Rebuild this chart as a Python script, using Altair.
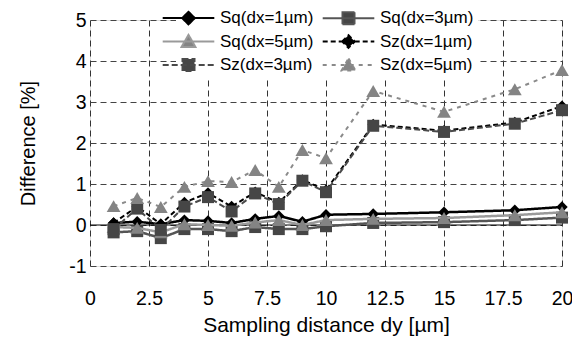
import altair as alt
import pandas as pd

x_vals = [1, 2, 3, 4, 5, 6, 7, 8, 9, 10, 12, 15, 18, 20]
series_names = ["Sq(dx=1µm)", "Sq(dx=3µm)", "Sq(dx=5µm)",
                "Sz(dx=1µm)", "Sz(dx=3µm)", "Sz(dx=5µm)"]
sq1 = [0.05, 0.08, 0.02, 0.12, 0.10, 0.05, 0.15, 0.22, 0.08, 0.25, 0.27, 0.31, 0.36, 0.44]
sq3 = [-0.18, -0.15, -0.32, -0.10, -0.10, -0.15, -0.05, -0.10, -0.10, -0.03, 0.05, 0.07, 0.12, 0.18]
sq5 = [-0.05, -0.07, -0.18, 0.02, 0.00, -0.02, 0.06, 0.12, 0.00, 0.12, 0.15, 0.17, 0.24, 0.31]
sz1 = [0.05, 0.45, 0.02, 0.55, 0.78, 0.45, 0.80, 0.55, 1.10, 0.85, 2.45, 2.30, 2.50, 2.90]
sz3 = [-0.10, 0.40, -0.12, 0.45, 0.68, 0.33, 0.77, 0.51, 1.08, 0.80, 2.42, 2.27, 2.47, 2.80]
sz5 = [0.46, 0.66, 0.44, 0.93, 1.07, 1.05, 1.34, 0.93, 1.83, 1.63, 3.27, 2.76, 3.31, 3.78]
series_values = [sq1, sq3, sq5, sz1, sz3, sz5]

x_ticks = [0, 2.5, 5, 7.5, 10, 12.5, 15, 17.5, 20]
y_ticks = [-1, 0, 1, 2, 3, 4, 5]
zero_line = [0]

line_colors = ["#000000", "#555555", "#9a9a9a", "#000000", "#4a4a4a", "#8a8a8a"]
marker_colors = ["#000000", "#464646", "#848484", "#000000", "#464646", "#848484"]
dashes = [[1, 0], [1, 0], [1, 0], [5, 3], [6, 3], [4, 5]]
line_widths = [2.5, 2.5, 2.5, 2, 2, 2]
marker_shapes = ["diamond", "square", "triangle-up", "diamond", "square", "triangle-up"]
marker_sizes = [130, 144, 190, 130, 144, 190]
legend_paths = [
    "M-4.3,0H4.3M-1.05,0L0,-1.05L1.05,0L0,1.05Z",
    "M-4.3,0H4.3M-1,-1H1V1H-1Z",
    "M-4.3,0H4.3M0,-1.1L1.15,0.9L-1.15,0.9Z",
    "M-4.3,0H4.3M-1.05,0L0,-1.05L1.05,0L0,1.05Z",
    "M-4.3,0H4.3M-1,-1H1V1H-1Z",
    "M-4.3,0H4.3M0,-1.1L1.15,0.9L-1.15,0.9Z",
]

rows = []
for name, vals in zip(series_names, series_values):
    for xv, yv in zip(x_vals, vals):
        rows.append({"series": name, "x": xv, "y": yv})
df = pd.DataFrame(rows)

FONT = "Liberation Sans"
xscale = alt.Scale(domain=[0, 20], nice=False, zero=False)
yscale = alt.Scale(domain=[-1, 5], nice=False, zero=False)
xaxis = alt.Axis(values=x_ticks, labelExpr="'' + datum.value", ticks=False, domain=False,
                 grid=True, gridDash=[6, 4], gridColor="#333333", gridWidth=1, labelFlush=False,
                 labelFontSize=19.5, labelPadding=23, labelColor="black", labelFont=FONT,
                 title="Sampling distance dy [µm]", titleFontSize=21, titlePadding=7,
                 titleFont=FONT, titleColor="black", titleFontWeight="normal")
yaxis = alt.Axis(values=y_ticks, labelExpr="'' + datum.value", ticks=False, domain=False,
                 grid=True, gridDash=[6, 4], gridColor="#444444", gridWidth=1, labelFlush=False,
                 labelFontSize=19.5, labelPadding=4, labelColor="black", labelFont=FONT,
                 title="Difference [%]", titleFontSize=20, titlePadding=30,
                 titleFont=FONT, titleColor="black", titleFontWeight="normal")

X = alt.X("x:Q", scale=xscale, axis=xaxis)
Y = alt.Y("y:Q", scale=yscale, axis=yaxis)

layers = []
layers.append(alt.Chart(pd.DataFrame({"y": zero_line})).mark_rule(color="black", strokeWidth=1)
              .encode(y=alt.Y("y:Q", scale=yscale, axis=yaxis)))

for i, name in enumerate(series_names):
    d = df[df["series"] == name]
    base = alt.Chart(d).encode(x=X, y=Y)
    layers.append(base.mark_line(color=line_colors[i], strokeWidth=line_widths[i],
                                 strokeDash=dashes[i]))
    layers.append(base.mark_point(filled=True, shape=marker_shapes[i], size=marker_sizes[i],
                                  color=marker_colors[i], opacity=1))

L = alt.Legend(title=None, orient="none", legendX=86, legendY=-14.5, columns=2,
               direction="horizontal",
               symbolSize=144, symbolStrokeWidth=2, symbolOpacity=1,
               labelFontSize=17, labelFont=FONT, labelColor="black", labelOffset=23,
               columnPadding=4, rowPadding=1.5, fillColor="white", padding=4,
               symbolLimit=0)

legend_layer = alt.Chart(df).mark_point(filled=True, opacity=0).encode(
    x=X, y=Y,
    color=alt.Color("series:N", scale=alt.Scale(domain=series_names, range=marker_colors), legend=L),
    stroke=alt.Stroke("series:N", scale=alt.Scale(domain=series_names, range=line_colors), legend=L),
    shape=alt.Shape("series:N", scale=alt.Scale(domain=series_names, range=legend_paths), legend=L),
    strokeDash=alt.StrokeDash("series:N", scale=alt.Scale(domain=series_names, range=dashes), legend=L),
)
layers.append(legend_layer)

chart = alt.layer(*layers).properties(
    width=472, height=246,
    autosize=alt.AutoSizeParams(type="none"),
    padding={"left": 82, "top": 12, "right": 10, "bottom": 73},
).configure_view(stroke="black", strokeWidth=1).configure(background="white")

chart.save("out.html", embed_options={"renderer": "svg", "actions": False})
